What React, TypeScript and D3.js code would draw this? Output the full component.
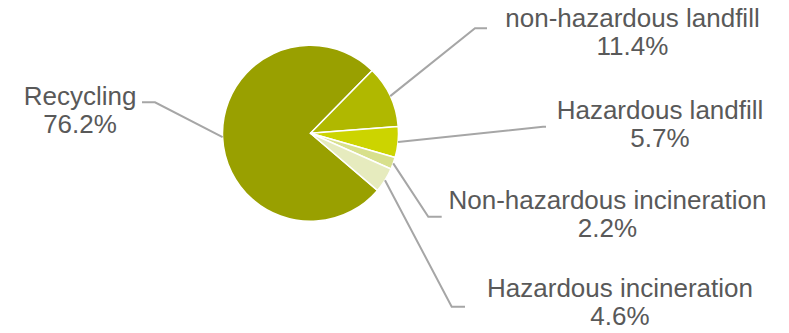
import React from "react";
import * as d3 from "d3";

const categories = [
  "Recycling",
  "non-hazardous landfill",
  "Hazardous landfill",
  "Non-hazardous incineration",
  "Hazardous incineration",
];
const values = [76.2, 11.4, 5.7, 2.2, 4.6];
const percentLabels = ["76.2%", "11.4%", "5.7%", "2.2%", "4.6%"];
const colors = ["#99a000", "#b0b800", "#ccd400", "#d8e08c", "#e6ebbe"];

// label layout: text center x, first baseline y, elbow point, end of horizontal
const labelLayout = [
  { cx: 80, y: 105, elbow: [155, 102.3], end: [142, 102.3] },
  { cx: 632.5, y: 27, elbow: [475, 28.3], end: [487, 28.3] },
  { cx: 660, y: 118.5, elbow: [543, 126.7], end: [546, 126.7] },
  { cx: 607.5, y: 208.5, elbow: [428.3, 216.7], end: [441.7, 216.7] },
  { cx: 620, y: 297, elbow: [451.7, 306.7], end: [465, 306.7] },
];

const W = 789;
const H = 333;
const CX = 310.5;
const CY = 133.3;
const R = 88;
const START_DEG = 44.5 - (values[0] / d3.sum(values)) * 360;

export default function App() {
  const start = (START_DEG * Math.PI) / 180;
  const pie = d3
    .pie<number>()
    .sort(null)
    .value((d) => d)
    .startAngle(start)
    .endAngle(start + 2 * Math.PI);
  const arcs = pie(values);
  const arc = d3.arc<d3.PieArcDatum<number>>().innerRadius(0).outerRadius(R);
  const lineH = 28.4;

  return (
    <svg
      width={W}
      height={H}
      style={{ position: "absolute", left: 0, top: 0, background: "#fff" }}
      fontFamily="'Liberation Sans', Arial, sans-serif"
    >
      <g transform={`translate(${CX},${CY})`}>
        {arcs.map((a, i) => (
          <path
            key={i}
            d={arc(a) || ""}
            fill={colors[i]}
            stroke="#ffffff"
            strokeWidth={1.5}
            strokeLinejoin="round"
          />
        ))}
      </g>
      {arcs.map((a, i) => {
        const mid = (a.startAngle + a.endAngle) / 2;
        const sx = CX + Math.sin(mid) * R;
        const sy = CY - Math.cos(mid) * R;
        const L = labelLayout[i];
        const pts: [number, number][] = [
          [sx, sy],
          [L.elbow[0], L.elbow[1]],
          [L.end[0], L.end[1]],
        ];
        return (
          <path
            key={"l" + i}
            d={d3.line()(pts) || ""}
            fill="none"
            stroke="#a6a6a6"
            strokeWidth={2}
          />
        );
      })}
      {categories.map((c, i) => {
        const L = labelLayout[i];
        return (
          <text
            key={"t" + i}
            x={L.cx}
            y={L.y}
            textAnchor="middle"
            fontSize={26}
            fill="#595959"
          >
            <tspan x={L.cx} y={L.y}>
              {c}
            </tspan>
            <tspan x={L.cx} y={L.y + lineH}>
              {percentLabels[i]}
            </tspan>
          </text>
        );
      })}
    </svg>
  );
}
